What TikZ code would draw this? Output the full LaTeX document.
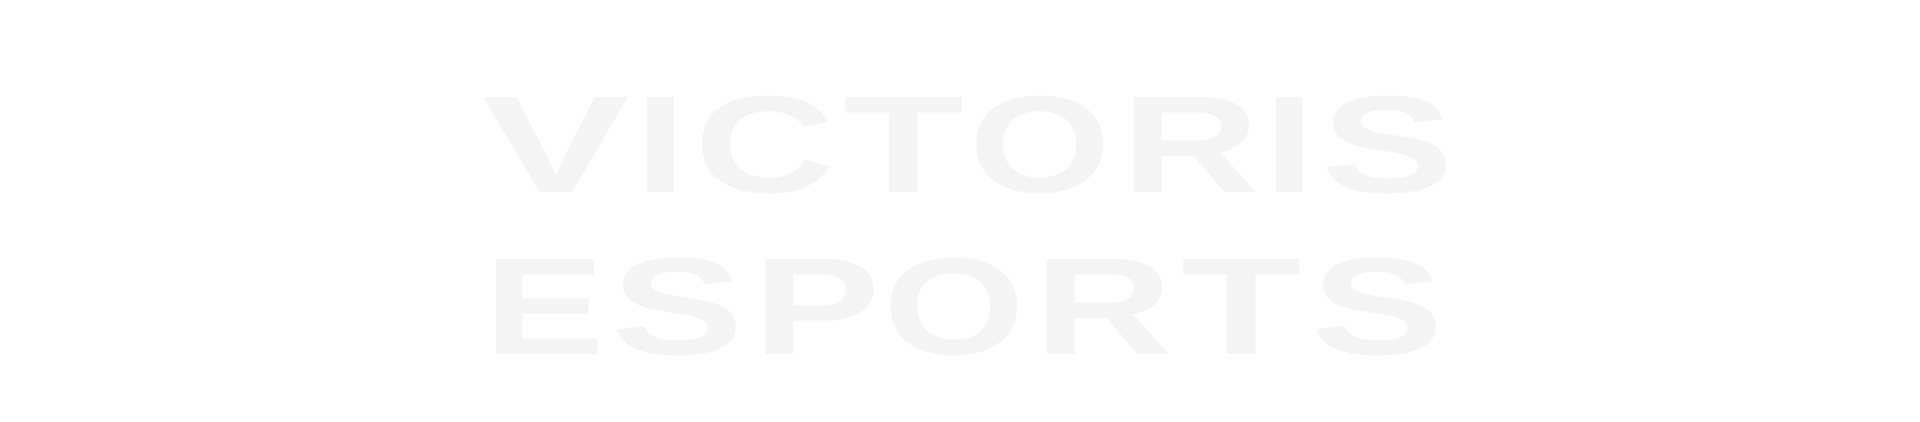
\documentclass[tikz,border=0pt]{standalone}
\usepackage{fontspec}
\setmainfont{Liberation Sans}
\definecolor{ink}{HTML}{F4F4F4}
\tikzset{glyph/.style={inner sep=0pt, anchor=base, text=ink, font=\fontsize{138}{138}\selectfont\bfseries}}
\newcommand{\wide}[2]{\scalebox{#1}[1]{#2}}
\begin{document}
\begin{tikzpicture}[x=1pt,y=1pt]
\fill[white] (0,0) rectangle (1920,421);
\useasboundingbox (0,0) rectangle (1920,421);
% VICTORIS
\node[glyph] (v)  at (556,228.6)   {\wide{1.6}{V}};
\node[glyph] (i1) at (660.5,228.6) {\wide{1.32}{I}};
\node[glyph] (c)  at (765,228.6)   {\wide{1.41}{C}};
\node[glyph] (t1) at (904,228.6)   {\wide{1.43}{T}};
\node[glyph] (o1) at (1040.5,228.6){\wide{1.32}{O}};
\node[glyph] (r1) at (1191,228.6)  {\wide{1.39}{R}};
\node[glyph] (i2) at (1290,228.6)  {\wide{1.32}{I}};
\node[glyph] (s1) at (1388,228.6)  {\wide{1.44}{S}};
% ESPORTS
\node[glyph] (e)  at (544.5,67)  {\wide{1.31}{E}};
\node[glyph] (s2) at (678,67)    {\wide{1.44}{S}};
\node[glyph] (p)  at (817,67)    {\wide{1.38}{P}};
\node[glyph] (o2) at (954,67)    {\wide{1.32}{O}};
\node[glyph] (r2) at (1104,67)   {\wide{1.39}{R}};
\node[glyph] (t2) at (1242,67)   {\wide{1.43}{T}};
\node[glyph] (s3) at (1377.5,67) {\wide{1.44}{S}};
\end{tikzpicture}
\end{document}
